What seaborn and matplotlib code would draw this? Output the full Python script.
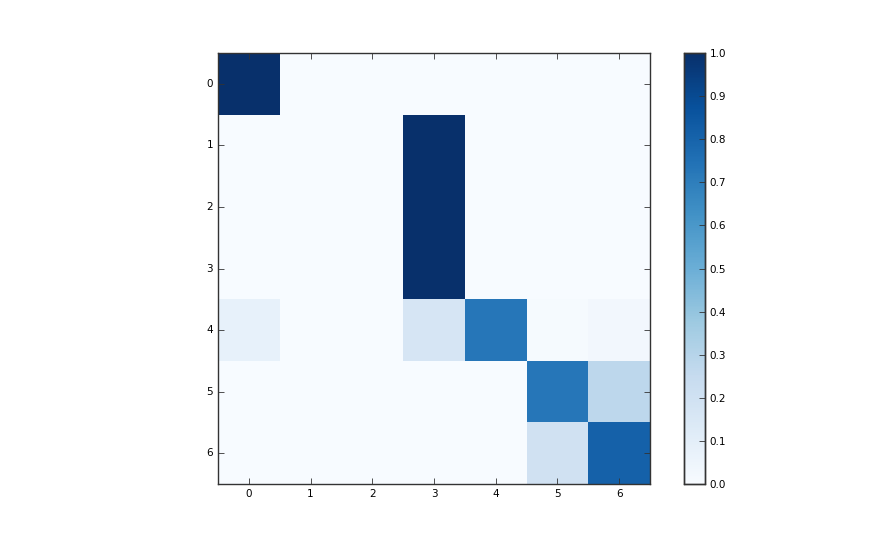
import numpy as np
import pandas as pd
import matplotlib
matplotlib.use("Agg")
import matplotlib.pyplot as plt
import seaborn as sns

# class labels and the normalised matrix
labels = ["0", "1", "2", "3", "4", "5", "6"]
row0 = [1.00, 0.00, 0.00, 0.00, 0.00, 0.00, 0.00]
row1 = [0.00, 0.00, 0.00, 1.00, 0.00, 0.00, 0.00]
row2 = [0.00, 0.00, 0.00, 1.00, 0.00, 0.00, 0.00]
row3 = [0.00, 0.00, 0.00, 1.00, 0.00, 0.00, 0.00]
row4 = [0.08, 0.00, 0.00, 0.17, 0.73, 0.01, 0.03]
row5 = [0.00, 0.00, 0.00, 0.00, 0.00, 0.73, 0.28]
row6 = [0.00, 0.00, 0.00, 0.00, 0.00, 0.20, 0.81]
cbar_ticks = [0.0, 0.1, 0.2, 0.3, 0.4, 0.5, 0.6, 0.7, 0.8, 0.9, 1.0]

cm = pd.DataFrame([row0, row1, row2, row3, row4, row5, row6], index=labels, columns=labels)

fig = plt.figure(figsize=(8.72, 5.38), dpi=100)
ax = fig.add_axes([0.25, 0.1004, 0.4954, 0.801])
cax = fig.add_axes([0.7844, 0.1004, 0.024, 0.801])

sns.heatmap(cm, ax=ax, cbar_ax=cax, cmap="Blues", vmin=0, vmax=1,
            square=False, linewidths=0, cbar_kws={"ticks": cbar_ticks})

# frame and ticks like the old imshow look
for s in ax.spines.values():
    s.set_visible(True)
    s.set_color("#333333")
    s.set_linewidth(1.0)
ax.tick_params(axis="both", direction="in", length=4, width=0.6, labelsize=7.5,
               top=True, right=True, color="#333333")
ax.set_xticklabels(labels, rotation=0)
ax.set_yticklabels(labels, rotation=0)
ax.set_xlabel("")
ax.set_ylabel("")

cax.tick_params(direction="in", length=4, width=0.6, labelsize=7.5, color="#333333")
cax.set_yticklabels([f"{t:.1f}" for t in cbar_ticks])
for s in cax.spines.values():
    s.set_visible(True)
    s.set_color("#333333")
    s.set_linewidth(1.0)

fig.savefig("out.png", dpi=100)
